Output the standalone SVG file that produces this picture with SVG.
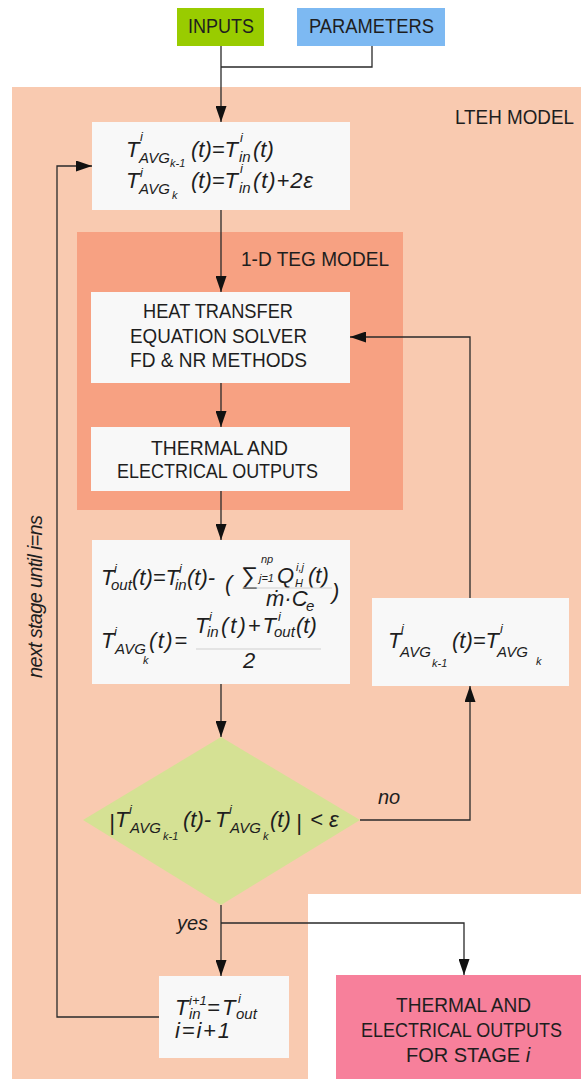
<svg xmlns="http://www.w3.org/2000/svg" width="581" height="1079" viewBox="0 0 581 1079">
<style>
text{font-family:"Liberation Sans",Arial,sans-serif;fill:#1e1e1e}
.lab{font-size:20px}
.m{font-style:italic;font-size:22px}
.sup{font-style:italic;font-size:13px}
.sub{font-style:italic;font-size:15px}
.ss{font-style:italic;font-size:11px}
.box{fill:#f8f8f8}
.conn path{fill:none;stroke:#2a2a2a;stroke-width:1.3}
.fl{stroke:#d0d0d0;stroke-width:1}
</style>
<defs>
<marker id="ah" markerUnits="userSpaceOnUse" markerWidth="16" markerHeight="11" refX="16" refY="5.5" orient="auto">
<path d="M0,0 L16,5.5 L0,11 z" fill="#111"/>
</marker>
</defs>
<rect width="581" height="1079" fill="#ffffff"/>
<g id="lteh-model">
<path d="M12,87 H581 V894 H308 V1079 H12 Z" fill="#f9cab0"/>
<text class="lab" x="455" y="124" textLength="119" lengthAdjust="spacingAndGlyphs">LTEH MODEL</text>
</g>
<g id="teg-model">
<rect x="77" y="232" width="326" height="278" fill="#f7a182"/>
<text class="lab" x="241" y="266" textLength="148" lengthAdjust="spacingAndGlyphs">1-D TEG MODEL</text>
</g>
<g id="inputs">
<rect x="177" y="8" width="87" height="38" fill="#99cc00"/>
<text class="lab" x="188" y="33" textLength="66" lengthAdjust="spacingAndGlyphs">INPUTS</text>
</g>
<g id="parameters">
<rect x="297" y="8" width="148" height="38" fill="#7db9f2"/>
<text class="lab" x="309" y="33" textLength="125" lengthAdjust="spacingAndGlyphs">PARAMETERS</text>
</g>
<g id="init">
<rect class="box" x="92" y="122" width="258" height="88"/>
<text class="m" x="126" y="157">T</text>
<text class="sup" x="140" y="141">i</text>
<text class="sub" x="139" y="163">AVG</text>
<text class="ss" x="170" y="167">k-1</text>
<text class="m" x="191" y="157">(t)=T</text>
<text class="sup" x="240" y="142">i</text>
<text class="sub" x="239" y="162">in</text>
<text class="m" x="253" y="157">(t)</text>
<text class="m" x="126" y="188">T</text>
<text class="sup" x="140" y="177">i</text>
<text class="sub" x="139" y="194">AVG</text>
<text class="ss" x="172" y="199">k</text>
<text class="m" x="191" y="188">(t)=T</text>
<text class="sup" x="240" y="173">i</text>
<text class="sub" x="239" y="193">in</text>
<text class="m" x="253" y="188" textLength="60">(t)+2ε</text>
</g>
<g id="heat-transfer">
<rect class="box" x="91" y="292" width="259" height="91"/>
<text class="lab" x="143" y="318" textLength="150" lengthAdjust="spacingAndGlyphs">HEAT TRANSFER</text>
<text class="lab" x="130" y="343" textLength="177" lengthAdjust="spacingAndGlyphs">EQUATION SOLVER</text>
<text class="lab" x="130" y="367" textLength="177" lengthAdjust="spacingAndGlyphs">FD &amp; NR METHODS</text>
</g>
<g id="teg-outputs">
<rect class="box" x="91" y="427" width="259" height="64"/>
<text class="lab" x="151" y="455" textLength="137" lengthAdjust="spacingAndGlyphs">THERMAL AND</text>
<text class="lab" x="117" y="478" textLength="201" lengthAdjust="spacingAndGlyphs">ELECTRICAL OUTPUTS</text>
</g>
<g id="outlet-temp">
<rect class="box" x="92" y="540" width="258" height="144"/>
<text class="m" x="101" y="585">T</text>
<text class="sup" x="114" y="573">i</text>
<text class="sub" x="111" y="590">out</text>
<text class="m" x="132" y="585">(t)=T</text>
<text class="sup" x="179" y="573">i</text>
<text class="sub" x="175" y="590">in</text>
<text class="m" x="187" y="585">(t)-</text>
<text class="m" x="225" y="591" font-size="26">(</text>
<text x="241" y="584" font-size="24">∑</text>
<text class="ss" x="261" y="563" font-size="12">np</text>
<text class="ss" x="259" y="582">j=1</text>
<text class="m" x="277" y="583">Q</text>
<text class="ss" x="296" y="571" font-size="12">i,j</text>
<text class="ss" x="295" y="587">H</text>
<text class="m" x="308" y="583">(t)</text>
<line class="fl" x1="243" y1="588" x2="332" y2="588"/>
<text class="m" x="266" y="606">ṁ·C</text>
<text class="sub" x="306" y="611" font-size="14">e</text>
<text class="m" x="332" y="599" font-size="24">)</text>
<text class="m" x="101" y="648">T</text>
<text class="sup" x="114" y="636">i</text>
<text class="sub" x="115" y="654" font-size="14">AVG</text>
<text class="ss" x="143" y="664">k</text>
<text class="m" x="149" y="648" textLength="38">(t)=</text>
<text class="m" x="195" y="633">T</text>
<text class="sup" x="209" y="621">i</text>
<text class="sub" x="207" y="637">in</text>
<text class="m" x="221" y="633" textLength="55">(t)+T</text>
<text class="sup" x="278" y="621">i</text>
<text class="sub" x="274" y="637">out</text>
<text class="m" x="296" y="633">(t)</text>
<line class="fl" x1="196" y1="649" x2="321" y2="649"/>
<text class="m" x="249" y="668" text-anchor="middle">2</text>
</g>
<g id="update-avg">
<rect class="box" x="372" y="598" width="197" height="88"/>
<text class="m" x="388" y="648">T</text>
<text class="sup" x="401" y="633">i</text>
<text class="sub" x="400" y="657" font-size="17">AVG</text>
<text class="ss" x="432" y="667">k-1</text>
<text class="m" x="452" y="648">(t)=T</text>
<text class="sup" x="500" y="633">i</text>
<text class="sub" x="497" y="657" font-size="17">AVG</text>
<text class="ss" x="536" y="665">k</text>
</g>
<g id="convergence">
<polygon points="221,737 360,820 221,905 83,820" fill="#d5e194"/>
<text class="m" x="109" y="830" font-size="24">|</text>
<text class="m" x="115" y="827">T</text>
<text class="sup" x="129" y="814">i</text>
<text class="sub" x="130" y="833">AVG</text>
<text class="ss" x="163" y="840">k-1</text>
<text class="m" x="183" y="827">(t)-</text>
<text class="m" x="215" y="827">T</text>
<text class="sup" x="229" y="814">i</text>
<text class="sub" x="230" y="833">AVG</text>
<text class="ss" x="263" y="840">k</text>
<text class="m" x="270" y="827">(t)</text>
<text class="m" x="296" y="830" font-size="24">|</text>
<text class="m" x="310" y="827">&lt; ε</text>
</g>
<g id="next-stage">
<rect class="box" x="159" y="976" width="130" height="82"/>
<text class="m" x="175" y="1015">T</text>
<text class="sup" x="189" y="1005">i+1</text>
<text class="sub" x="189" y="1019">in</text>
<text class="m" x="207" y="1015">=</text>
<text class="m" x="222" y="1015">T</text>
<text class="sup" x="238" y="1003">i</text>
<text class="sub" x="236" y="1019">out</text>
<text class="m" x="175" y="1038" textLength="55">i=i+1</text>
</g>
<g id="stage-outputs">
<rect x="336" y="975" width="245" height="104" fill="#f7809b"/>
<text class="lab" x="396" y="1012" textLength="135" lengthAdjust="spacingAndGlyphs">THERMAL AND</text>
<text class="lab" x="361" y="1037" textLength="201" lengthAdjust="spacingAndGlyphs">ELECTRICAL OUTPUTS</text>
<text class="lab" x="406" y="1062">FOR STAGE <tspan font-style="italic">i</tspan></text>
</g>
<g id="connectors" class="conn">
<path d="M221,46 V67 M372,46 V67 H221"/>
<path d="M221,67 V122" marker-end="url(#ah)"/>
<path d="M221,210 V292" marker-end="url(#ah)"/>
<path d="M221,383 V427" marker-end="url(#ah)"/>
<path d="M221,491 V540" marker-end="url(#ah)"/>
<path d="M221,684 V737" marker-end="url(#ah)"/>
<path d="M360,820 H470 V686" marker-end="url(#ah)"/>
<path d="M470,598 V337 H350" marker-end="url(#ah)"/>
<path d="M221,905 V976" marker-end="url(#ah)"/>
<path d="M221,923 H464 V975" marker-end="url(#ah)"/>
<path d="M159,1017 H57 V166 H92" marker-end="url(#ah)"/>
</g>
<g id="labels">
<text class="lab" x="378" y="804" font-style="italic">no</text>
<text class="lab" x="208" y="930" font-style="italic" font-size="19" text-anchor="end">yes</text>
<text class="lab" font-style="italic" font-size="19" transform="translate(42,678) rotate(-90)" textLength="163">next stage until i=ns</text>
</g>
</svg>
